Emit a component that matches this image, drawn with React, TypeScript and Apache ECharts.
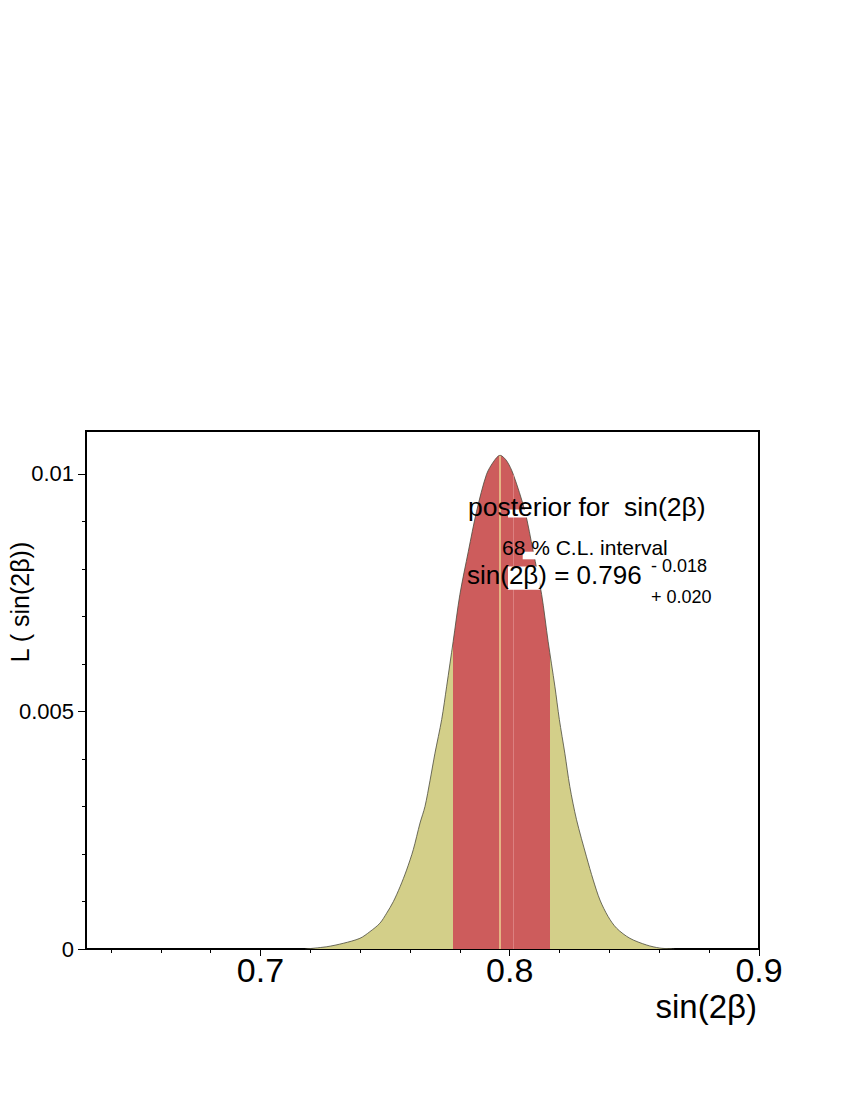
import React, { useEffect, useRef } from "react";
import * as echarts from "echarts";

// sin(2beta) sample positions and posterior likelihood values
const xValues = [
  0.718, 0.7266, 0.7332, 0.7399, 0.7439, 0.7479, 0.7506, 0.7533, 0.756, 0.7586, 0.7613,
  0.764, 0.766, 0.768, 0.77, 0.7727, 0.7747, 0.7773, 0.78, 0.7834, 0.7867, 0.7907,
  0.7937, 0.7961, 0.7988, 0.8014, 0.8061, 0.8094, 0.8128, 0.8154, 0.8181, 0.8199, 0.8221,
  0.8241, 0.8268, 0.8308, 0.8335, 0.8362, 0.8395, 0.8429, 0.8482, 0.8549, 0.8602, 0.866,
];
const likelihood = [
  0, 0.000048, 0.00012, 0.000225, 0.000365, 0.000542, 0.000752, 0.000997, 0.00131, 0.00166, 0.00209,
  0.00265, 0.003, 0.00354, 0.00412, 0.00483, 0.00553, 0.00647, 0.00746, 0.00837, 0.00921, 0.00999,
  0.01027, 0.01039, 0.01027, 0.00999, 0.00921, 0.00837, 0.00746, 0.00647, 0.00553, 0.00483, 0.00412,
  0.00342, 0.00272, 0.00194, 0.00145, 0.00103, 0.00068, 0.000436, 0.000225, 0.000084, 0.00002, 0,
];

// 68% C.L. interval and central value
const centralValue = 0.796;
const centralHeight = 0.01038;
const intervalLow = 0.7773;
const intervalHigh = 0.8162;
const binEdgeValue = 0.8015;
const binEdgeHeight = 0.00997;

// axis ticks
const xMajorTicks = [0.7, 0.8, 0.9];
const xMinorTicks = [0.64, 0.66, 0.68, 0.72, 0.74, 0.76, 0.78, 0.82, 0.84, 0.86, 0.88];
const yMajorTicks = [0, 0.005, 0.01];
const yMinorTicks = [0.001, 0.002, 0.003, 0.004, 0.006, 0.007, 0.008, 0.009];

// white text-box patches over the band (data coords: x0, y0, x1, y1)
const maskBoxes = [
  [0.7993, 0.00908, 0.8121, 0.00925],
  [0.8052, 0.0082, 0.8121, 0.00836],
  [0.7993, 0.00756, 0.8121, 0.00805],
];

const FONT = "'Liberation Sans', Arial, Helvetica, sans-serif";
const YELLOW = "#d3cf89";
const RED = "#cd5c5c";

export default function App() {
  const ref = useRef<HTMLDivElement>(null);

  useEffect(() => {
    const chart = echarts.init(ref.current!, null, { renderer: "svg" });
    const curve = xValues.map((x, i) => [x, likelihood[i]]);

    const gridBox = { left: 86, top: 431, right: 86, bottom: 144 };
    const fmt = (v: number) => (v === 0 ? "0" : String(+Number(v).toFixed(4)));

    const option: any = {
      animation: false,
      backgroundColor: "#ffffff",
      grid: [
        { ...gridBox, show: true, borderColor: "#000", borderWidth: 2, backgroundColor: "transparent", outerBoundsMode: "none", containLabel: false },
        { ...gridBox, show: false, outerBoundsMode: "none", containLabel: false },
      ],
      xAxis: [
        {
          type: "value", gridIndex: 0, min: 0.63, max: 0.9, position: "bottom",
          axisLine: { show: true, onZero: false, lineStyle: { color: "#000", width: 2 } },
          axisTick: { show: true, inside: false, length: 7, customValues: xMajorTicks, lineStyle: { color: "#000", width: 1 } },
          axisLabel: { show: true, customValues: xMajorTicks, fontSize: 34, color: "#000", fontFamily: FONT, margin: 4, formatter: fmt },
          splitLine: { show: false }, minorTick: { show: false }, minorSplitLine: { show: false },
        },
        {
          type: "value", gridIndex: 1, min: 0.63, max: 0.9, position: "bottom",
          axisLine: { show: false },
          axisTick: { show: true, inside: false, length: 4, customValues: xMinorTicks, lineStyle: { color: "#000", width: 1 } },
          axisLabel: { show: false },
          splitLine: { show: false },
        },
      ],
      yAxis: [
        {
          type: "value", gridIndex: 0, min: 0, max: 0.0109, position: "left",
          axisLine: { show: true, onZero: false, lineStyle: { color: "#000", width: 2 } },
          axisTick: { show: true, inside: false, length: 8, customValues: yMajorTicks, lineStyle: { color: "#000", width: 1 } },
          axisLabel: { show: true, customValues: yMajorTicks, fontSize: 22, color: "#000", fontFamily: FONT, margin: 12, formatter: fmt },
          splitLine: { show: false },
        },
        {
          type: "value", gridIndex: 1, min: 0, max: 0.0109, position: "left",
          axisLine: { show: false },
          axisTick: { show: true, inside: false, length: 4, customValues: yMinorTicks, lineStyle: { color: "#000", width: 1 } },
          axisLabel: { show: false },
          splitLine: { show: false },
        },
      ],
      visualMap: {
        type: "piecewise",
        show: false,
        seriesIndex: 0,
        dimension: 0,
        pieces: [
          { lt: intervalLow, color: YELLOW },
          { gte: intervalLow, lte: intervalHigh, color: RED },
          { gt: intervalHigh, color: YELLOW },
        ],
      },
      series: [
        {
          type: "line", name: "band", xAxisIndex: 0, yAxisIndex: 0, data: curve,
          smooth: 0.3, symbol: "none", showSymbol: false,
          lineStyle: { width: 0 }, areaStyle: { opacity: 1 }, z: 1, silent: true,
          emphasis: { disabled: true },
        },
        {
          type: "line", name: "outline", xAxisIndex: 0, yAxisIndex: 0, data: curve,
          smooth: 0.3, symbol: "none", showSymbol: false,
          lineStyle: { color: "#4a4a3c", width: 0.8 }, z: 3, silent: true,
          emphasis: { disabled: true },
          markLine: {
            silent: true, symbol: ["none", "none"], label: { show: false },
            emphasis: { disabled: true }, animation: false,
            data: [
              [
                { coord: [centralValue, 0], lineStyle: { color: "#e4b584", width: 2, type: "solid" } },
                { coord: [centralValue, centralHeight] },
              ],
              [
                { coord: [binEdgeValue, 0], lineStyle: { color: "#dc8080", width: 1, type: "solid" } },
                { coord: [binEdgeValue, binEdgeHeight] },
              ],
            ],
          },
        },
      ],
    };

    chart.setOption(option);

    const rects = maskBoxes.map((b) => {
      const p0 = chart.convertToPixel({ gridIndex: 0 }, [b[0], b[3]]) as number[];
      const p1 = chart.convertToPixel({ gridIndex: 0 }, [b[2], b[1]]) as number[];
      return {
        type: "rect", z: 10, silent: true,
        shape: { x: p0[0], y: p0[1], width: p1[0] - p0[0], height: p1[1] - p0[1] },
        style: { fill: "#ffffff" },
      };
    });

    const txt = (text: string, x: number, y: number, size: number, align = "left", rotation = 0) => ({
      type: "text", z: 20, silent: true, x, y, rotation,
      style: { text, fontSize: size, fontFamily: FONT, fill: "#000", textAlign: align, textVerticalAlign: "middle" },
    });

    chart.setOption({
      graphic: [
        ...rects,
        txt("posterior for  sin(2\u03b2)", 468, 507, 26.5),
        txt("68 % C.L. interval", 502, 547, 21),
        txt("sin(2\u03b2) = 0.796", 467, 575, 26),
        txt("- 0.018", 651, 565.5, 18),
        txt("+ 0.020", 651, 597, 18),
        txt("sin(2\u03b2)", 757, 1006, 33, "right"),
        txt("L ( sin(2\u03b2))", 20, 602, 25, "center", Math.PI / 2),
      ],
    });

    return () => chart.dispose();
  }, []);

  return (
    <div
      ref={ref}
      style={{ position: "fixed", left: 0, top: 0, width: 845, height: 1093, background: "#fff" }}
    />
  );
}
